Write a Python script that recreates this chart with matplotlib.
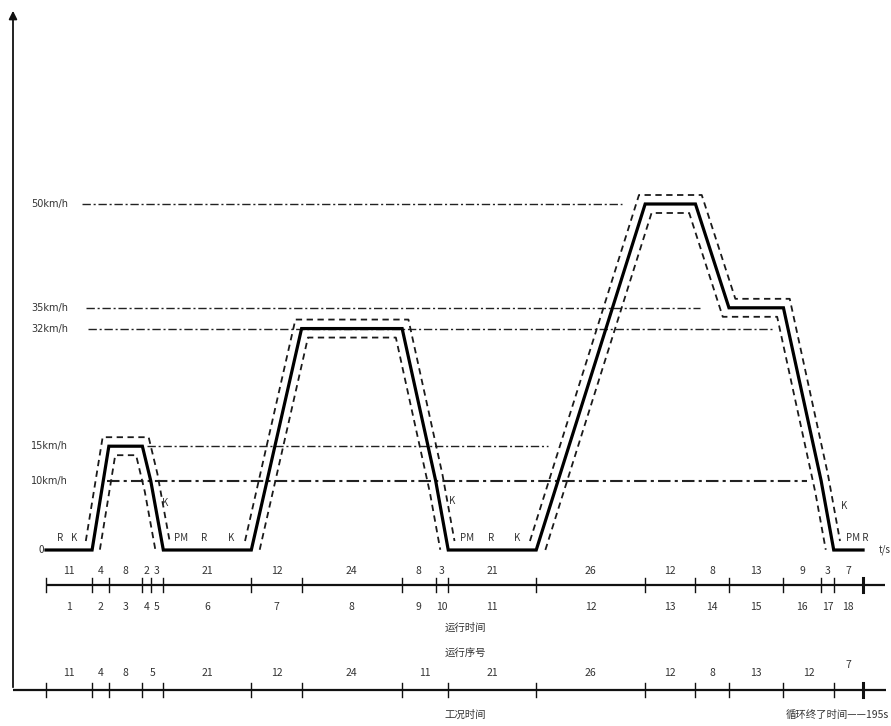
import numpy as np
import matplotlib
matplotlib.use("Agg")
import matplotlib.pyplot as plt

plt.rcParams['font.family'] = ['Noto Sans CJK SC', 'DejaVu Sans']

# ---------------- data ----------------
# ECE-15 cycle: breakpoints (s) and speed (km/h)
times  = [0, 11, 15, 23, 25, 28, 49, 61, 85, 93, 96, 117, 143, 155, 163, 176, 185, 188, 195]
speeds = [0, 0, 15, 15, 10, 0, 0, 32, 32, 10, 0, 0, 50, 50, 35, 35, 10, 0, 0]

# operating durations (row 1) and sequence numbers (row 2)
op_durations = [11, 4, 8, 2, 3, 21, 12, 24, 8, 3, 21, 26, 12, 8, 13, 9, 3, 7]
op_numbers = list(range(1, 19))
# mode (condition) durations (row 3)
mode_durations = [11, 4, 8, 5, 21, 12, 24, 11, 21, 26, 12, 8, 13, 12, 7]

# reference speed lines: speed, start time, end time
ref_speeds = [50, 35, 32, 15, 10]
ref_start = [8.6, 9.5, 10.0, 24.1, 14.6]
ref_end = [137.5, 156.0, 173.5, 119.8, 181.6]
ref_labels = ["50km/h", "35km/h", "32km/h", "15km/h", "10km/h"]

# tolerance band
tol_dt = 1.5   # s
tol_dv = 1.3   # km/h
moving_blocks = [(11, 28), (49, 96), (117, 188)]

# gear / state annotations
state_labels = ["R", "K", "K", "PM", "R", "K", "K", "PM", "R", "K", "K", "PM R"]
state_px = [(60, 538), (74, 538), (165, 503), (181, 538), (204, 538), (231, 538),
            (452, 501), (467, 538), (491, 538), (517, 538), (844, 506), (857, 538)]

# ---------------- layout helpers (pixel -> data) ----------------
W, H = 891, 726
X0, SX = 46.0, 4.19
Y0, SY = 550.0, 6.92
def X(px): return (px - X0) / SX
def Y(py): return (Y0 - py) / SY

fig = plt.figure(figsize=(W / 100, H / 100), dpi=100)
ax = fig.add_axes([0, 0, 1, 1])
ax.set_xlim(X(0), X(W))
ax.set_ylim(Y(H), Y(0))
ax.axis('off')

ink = '#111111'
txt = '#333333'
fs = 7.5

# y axis with arrow
ax.annotate('', xy=(X(13), Y(8)), xytext=(X(13), Y(690)),
            arrowprops=dict(arrowstyle='-|>', color=ink, lw=1.3, mutation_scale=12))
# bottom baseline
ax.plot([X(13), X(886)], [Y(690), Y(690)], color=ink, lw=1.6, solid_capstyle='butt')

# reference dash-dot lines
for v, t0, t1, lab in zip(ref_speeds, ref_start, ref_end, ref_labels):
    lw = 1.5 if v == 10 else 1.0
    ax.plot([t0, t1], [v, v], color='#222222', lw=lw, dashes=(6, 2, 1.5, 2))
    ax.text(X(68), v, lab, ha='right', va='center', fontsize=7, color=txt,
            family=['DejaVu Sans Condensed', 'DejaVu Sans'])
ax.text(X(44), 0, "0", ha='right', va='center', fontsize=7, color=txt)

# tolerance band (dashed)
for a, b in moving_blocks:
    tt = np.arange(a - tol_dt, b + tol_dt + 1e-9, 0.02)
    win = np.linspace(-tol_dt, tol_dt, 61)
    vals = np.interp(tt[:, None] + win[None, :], times, speeds)
    up = vals.max(axis=1) + tol_dv
    lo = vals.min(axis=1) - tol_dv
    lo = np.where(lo < 0.0, np.nan, lo)
    ax.plot(tt, up, color='#1a1a1a', lw=1.3, dashes=(3.5, 2.5))
    ax.plot(tt, lo, color='#1a1a1a', lw=1.3, dashes=(3.5, 2.5))

# solid speed profile
ax.plot(times, speeds, color='black', lw=2.3, solid_joinstyle='miter')

# t/s label
ax.text(X(879), 0, "t/s", ha='left', va='center', fontsize=7, color=txt)

# state labels
for lab, (px, py) in zip(state_labels, state_px):
    ax.text(X(px), Y(py), lab, ha='center', va='center', fontsize=7, color=txt)

# ---------------- rulers ----------------
def ruler(py, bounds, extend_to=None, lw=1.6):
    y = Y(py)
    ax.plot([bounds[0], X(extend_to) if extend_to else bounds[-1]], [y, y],
            color=ink, lw=lw, solid_capstyle='butt')
    for i, b in enumerate(bounds):
        w = 2.2 if i == len(bounds) - 1 else 1.0
        ax.plot([b, b], [Y(py - 7), Y(py + 7)], color=ink, lw=w)

# row 1: operating segments
b1 = np.concatenate([[0], np.cumsum(op_durations)])
ruler(585, b1, extend_to=885)
mids1 = (b1[:-1] + b1[1:]) / 2
for m, d in zip(mids1, op_durations):
    ax.text(m, Y(571), str(d), ha='center', va='center', fontsize=fs, color=txt)
for m, n in zip(mids1, op_numbers):
    ax.text(m, Y(607), str(n), ha='center', va='center', fontsize=fs, color=txt)

ax.text(X(465), Y(628), "运行时间", ha='center', va='center', fontsize=7.5, color=txt)
ax.text(X(465), Y(653), "运行序号", ha='center', va='center', fontsize=7.5, color=txt)

# row 3: modes
b3 = np.concatenate([[0], np.cumsum(mode_durations)])
for i, b in enumerate(b3):
    w = 2.2 if i == len(b3) - 1 else 1.0
    ax.plot([b, b], [Y(683), Y(697)], color=ink, lw=w)
mids3 = (b3[:-1] + b3[1:]) / 2
for i, (m, d) in enumerate(zip(mids3, mode_durations)):
    yy = 665 if i == len(mode_durations) - 1 else 673
    ax.text(m, Y(yy), str(d), ha='center', va='center', fontsize=fs, color=txt)

ax.text(X(465), Y(715), "工况时间", ha='center', va='center', fontsize=7.5, color=txt)
ax.text(X(889), Y(715), "循环终了时间——195s", ha='right', va='center', fontsize=7.5, color=txt)

fig.savefig("out.png", dpi=100, facecolor='white')
